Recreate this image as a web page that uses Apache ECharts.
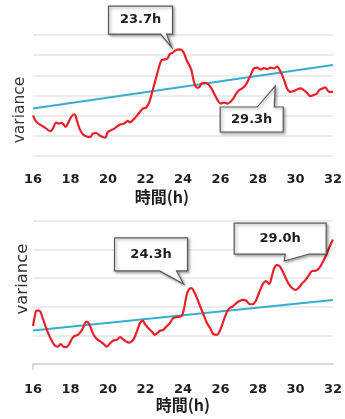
<!DOCTYPE html>
<html>
<head>
<meta charset="utf-8">
<script src="https://cdn.jsdelivr.net/npm/echarts@6/dist/echarts.min.js"></script>
<style>
  html, body { margin: 0; padding: 0; background: #fff; }
  #chart { width: 345px; height: 419px; }
</style>
</head>
<body>
<div id="chart"></div>
<script>
// ---- Upper panel: hours and variance ----
const topHours = [16.00,16.18,16.44,16.71,16.92,17.06,17.24,17.38,17.51,17.63,17.74,17.86,18.04,18.21,18.34,18.48,18.66,18.83,19.05,19.19,19.37,19.54,19.72,19.86,19.99,20.16,20.34,20.52,20.70,20.87,21.05,21.17,21.32,21.49,21.67,21.85,22.02,22.17,22.29,22.41,22.56,22.70,22.87,23.05,23.18,23.30,23.44,23.62,23.80,23.94,24.06,24.19,24.33,24.45,24.54,24.65,24.77,24.89,25.00,25.18,25.34,25.48,25.66,25.83,26.01,26.19,26.37,26.54,26.72,26.84,26.99,27.16,27.34,27.48,27.61,27.78,27.96,28.14,28.31,28.49,28.67,28.85,29.02,29.16,29.29,29.43,29.55,29.73,29.91,30.09,30.26,30.44,30.62,30.79,30.97,31.15,31.27,31.45,31.59,31.68,31.80,32.00];
const topVariance = [2.02,1.69,1.52,1.36,1.23,1.36,1.66,1.61,1.64,1.57,1.44,1.61,1.94,2.07,1.77,1.36,1.08,0.98,0.94,1.11,1.14,1.03,0.94,0.91,1.19,1.28,1.36,1.49,1.57,1.61,1.74,1.67,1.77,1.94,2.14,2.35,2.39,2.60,2.93,3.35,3.85,4.34,4.76,4.79,4.84,5.06,5.12,5.25,5.29,5.25,5.09,4.76,4.51,4.26,3.85,3.51,3.38,3.43,3.60,3.63,3.56,3.40,3.10,2.80,2.60,2.65,2.60,2.69,2.90,3.10,3.27,3.35,3.51,3.76,4.01,4.34,4.38,4.29,4.36,4.31,4.38,4.34,4.43,4.26,4.01,3.68,3.35,3.18,3.23,3.30,3.35,3.27,3.13,2.97,3.02,3.10,3.27,3.35,3.40,3.30,3.18,3.18];
const topTrendHours = [16, 32];
const topTrendValues = [2.36, 4.51];
const topCalloutText = ['23.7h', '29.3h'];
const topCalloutHours = [23.39, 28.92];
const topCalloutValues = [5.40, 3.47];

// ---- Lower panel: hours and variance ----
const bottomHours = [16.00,16.11,16.19,16.35,16.49,16.67,16.85,17.02,17.17,17.33,17.47,17.61,17.77,17.91,18.05,18.17,18.39,18.56,18.70,18.84,18.97,19.09,19.23,19.41,19.59,19.76,19.94,20.12,20.29,20.47,20.65,20.79,20.96,21.14,21.32,21.44,21.57,21.71,21.85,21.97,22.15,22.33,22.50,22.63,22.77,22.94,23.12,23.30,23.47,23.65,23.92,24.04,24.18,24.30,24.45,24.59,24.75,24.92,25.10,25.28,25.45,25.63,25.81,25.95,26.09,26.21,26.35,26.48,26.65,26.83,27.01,27.18,27.36,27.54,27.71,27.86,27.98,28.12,28.28,28.42,28.60,28.74,28.86,29.00,29.16,29.30,29.45,29.62,29.83,30.01,30.19,30.36,30.54,30.72,30.89,31.07,31.25,31.42,31.60,31.78,32.00];
const bottomVariance = [1.33,1.72,1.87,1.86,1.66,1.31,1.02,0.79,0.64,0.61,0.70,0.61,0.59,0.67,0.85,0.96,1.02,1.14,1.31,1.48,1.43,1.25,1.02,0.87,0.79,0.70,0.61,0.73,0.82,0.85,0.94,0.87,0.79,0.75,0.82,0.96,1.19,1.43,1.52,1.40,1.25,1.14,1.02,1.08,1.16,1.19,1.31,1.43,1.60,1.64,1.68,1.89,2.36,2.59,2.65,2.53,2.30,2.01,1.72,1.43,1.25,1.04,1.02,1.14,1.37,1.60,1.83,1.95,2.01,2.12,2.20,2.24,2.22,2.10,2.09,2.18,2.36,2.59,2.82,2.90,2.80,3.07,3.34,3.46,3.42,3.26,3.05,2.82,2.65,2.59,2.68,2.82,2.94,3.11,3.25,3.26,3.34,3.52,3.75,4.04,4.35];
const bottomTrendHours = [16, 32];
const bottomTrendValues = [1.17, 2.24];
const bottomCalloutText = ['24.3h', '29.0h'];
const bottomCalloutHours = [24.03, 29.40];
const bottomCalloutValues = [2.80, 3.60];

const zip = (xs, ys) => xs.map((x, i) => [x, ys[i]]);

const RED = '#e8202a';
const BLUE = '#38aecd';
const GRID_LINE = '#e6e6e6';
const tickFont = { fontFamily: 'DejaVu Sans', fontWeight: 'bold', fontSize: 13, color: '#1e1e1e' };
const nameFont = { fontFamily: 'Noto Sans CJK JP', fontWeight: 'bold', fontSize: 16, color: '#1e1e1e' };

function xAxisFor(gridIndex, opts) {
  return {
    type: 'value', gridIndex, min: 16, max: 32, interval: 2,
    name: '時間(h)', nameLocation: 'middle', nameGap: opts.nameGap,
    nameTextStyle: Object.assign({}, nameFont, { padding: opts.namePadding }),
    axisLine: opts.axisLine,
    axisTick: opts.axisTick,
    axisLabel: Object.assign({}, tickFont, { margin: opts.labelMargin }),
    splitLine: { show: false }
  };
}

function yAxisFor(gridIndex, max) {
  return {
    type: 'value', gridIndex, min: 0, max, interval: 1,
    axisLine: { show: false }, axisTick: { show: false }, axisLabel: { show: false },
    splitLine: { show: true, lineStyle: { color: GRID_LINE, width: 1.5 } }
  };
}

const chart = echarts.init(document.getElementById('chart'), null, { renderer: 'canvas' });

chart.setOption({
  animation: false,
  backgroundColor: '#fff',
  grid: [
    { left: 33, right: 11, top: 35, height: 121 },
    { left: 33, right: 11, top: 221, height: 143 }
  ],
  xAxis: [
    xAxisFor(0, {
      nameGap: 33, namePadding: [0, 42, 0, 0], labelMargin: 17,
      axisLine: { show: false }, axisTick: { show: false }
    }),
    xAxisFor(1, {
      nameGap: 32, namePadding: [0, 0, 0, 0], labelMargin: 19,
      axisLine: { show: true, lineStyle: { color: '#cfcfcf', width: 1.5 } },
      axisTick: { show: true, customValues: [16], length: 6, lineStyle: { color: '#cfcfcf', width: 1.5 } }
    })
  ],
  yAxis: [yAxisFor(0, 6), yAxisFor(1, 5)],
  series: [
    { type: 'line', xAxisIndex: 0, yAxisIndex: 0, data: zip(topTrendHours, topTrendValues),
      showSymbol: false, lineStyle: { color: BLUE, width: 2 }, z: 2 },
    { type: 'line', xAxisIndex: 0, yAxisIndex: 0, data: zip(topHours, topVariance),
      showSymbol: false, smooth: 0.35, lineStyle: { color: RED, width: 2.2 }, z: 3 },
    { type: 'line', xAxisIndex: 1, yAxisIndex: 1, data: zip(bottomTrendHours, bottomTrendValues),
      showSymbol: false, lineStyle: { color: BLUE, width: 2 }, z: 2 },
    { type: 'line', xAxisIndex: 1, yAxisIndex: 1, data: zip(bottomHours, bottomVariance),
      showSymbol: false, smooth: 0.35, lineStyle: { color: RED, width: 2.2 }, z: 3 }
  ]
});

// Speech-bubble shapes, offsets measured from the pointer tip (px)
const topBubbles = [
  { left: -63, right: 1, top: -41, bottom: -13, tailL: -11, tailR: -5, tail: 'bottom' },
  { left: -55, right: 8, top: 21, bottom: 46, tailL: -18, tailR: -1, tail: 'top' }
];
const bottomBubbles = [
  { left: -69, right: 4, top: -46, bottom: -13, tailL: -24, tailR: -7, tail: 'bottom' },
  { left: -50, right: 42, top: -38, bottom: -7, tailL: 1, tailR: 25, tail: 'bottom' }
];

function bubble(gridIndex, hour, value, text, b) {
  const [tx, ty] = chart.convertToPixel({ xAxisIndex: gridIndex, yAxisIndex: gridIndex }, [hour, value]);
  const L = tx + b.left, R = tx + b.right, T = ty + b.top, B = ty + b.bottom;
  let pts;
  if (b.tail === 'bottom') {
    pts = [[L, T], [R, T], [R, B], [tx + b.tailR, B], [tx, ty], [tx + b.tailL, B], [L, B]];
  } else {
    pts = [[L, T], [tx + b.tailL, T], [tx, ty], [tx + b.tailR, T], [R, T], [R, B], [L, B]];
  }
  return [
    {
      type: 'polygon', z: 50,
      shape: { points: pts },
      style: {
        fill: '#fff', stroke: '#5a5a5a', lineWidth: 1.2,
        shadowBlur: 3, shadowOffsetX: 1.5, shadowOffsetY: 1.5, shadowColor: 'rgba(0,0,0,0.35)'
      }
    },
    {
      type: 'text', z: 51,
      x: (L + R) / 2, y: (T + B) / 2,
      style: {
        text, fill: '#1e1e1e', font: 'bold 13px "DejaVu Sans"',
        align: 'center', verticalAlign: 'middle'
      }
    }
  ];
}

const graphics = [];
topCalloutText.forEach((t, i) => graphics.push(...bubble(0, topCalloutHours[i], topCalloutValues[i], t, topBubbles[i])));
bottomCalloutText.forEach((t, i) => graphics.push(...bubble(1, bottomCalloutHours[i], bottomCalloutValues[i], t, bottomBubbles[i])));

// Vertical axis titles
graphics.push(
  { type: 'text', x: 20, y: 110, rotation: Math.PI / 2,
    style: { text: 'variance', fill: '#333', font: '15.5px "DejaVu Sans"', align: 'center', verticalAlign: 'middle' } },
  { type: 'text', x: 23, y: 279, rotation: Math.PI / 2,
    style: { text: 'variance', fill: '#333', font: '16.5px "DejaVu Sans"', align: 'center', verticalAlign: 'middle' } }
);

chart.setOption({ graphic: graphics });
</script>
</body>
</html>
